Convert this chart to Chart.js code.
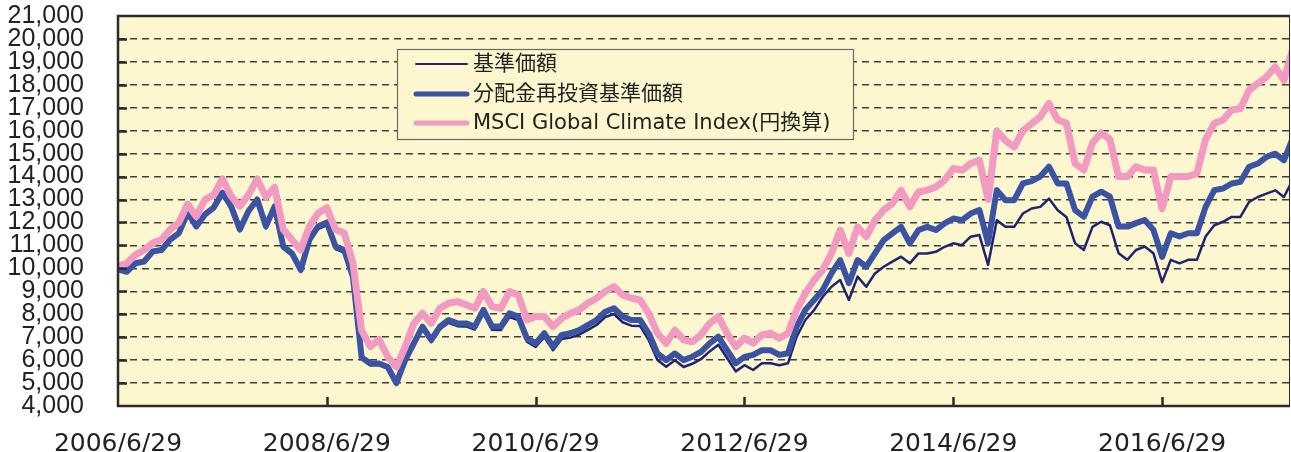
<!DOCTYPE html>
<html>
<head>
<meta charset="utf-8">
<script src="https://cdn.jsdelivr.net/npm/chart.js@4"></script>
<style>
  html, body { margin: 0; background: #fff; }
  #wrap { width: 1291px; height: 452px; }
</style>
</head>
<body>
<div id="wrap"><canvas id="chart" width="1291" height="452"></canvas></div>
<script>
// 目盛りラベル（2年ごと、月数0,24,48...）
const tickLabels = ['2006/6/29', '2008/6/29', '2010/6/29', '2012/6/29', '2014/6/29', '2016/6/29'];
const seriesNames = ['基準価額', '分配金再投資基準価額', 'MSCI Global Climate Index(円換算)'];

// 月次の値（2006/6/29 から1か月ごと、図から読み取り）
const navValues = [
  9950, 9830, 10190, 10270, 10700, 10760, 11200, 11490, 12370, 11770, 12280, 12580,
  13220, 12620, 11620, 12410, 12900, 11740, 12600, 10860, 10560, 9840, 11150, 11720,
  11880, 10840, 10690, 9530, 6050, 5780, 5780, 5630, 4930, 5920, 6630, 7350,
  6780, 7340, 7630, 7480, 7470, 7330, 8040, 7320, 7310, 7880, 7740, 6800,
  6570, 7000, 6430, 6920, 6980, 7110, 7320, 7530, 7880, 8010, 7650, 7500,
  7490, 6870, 6000, 5710, 5990, 5700, 5840, 6040, 6380, 6670, 6090, 5510,
  5780, 5570, 5860, 5860, 5780, 5860, 7020, 7750, 8180, 8760, 9200, 9490,
  8620, 9640, 9200, 9780, 10070, 10290, 10510, 10220, 10650, 10650, 10720, 10940,
  11090, 11010, 11380, 11450, 10150, 12100, 11810, 11810, 12390, 12610, 12680, 13040,
  12530, 12240, 11090, 10800, 11810, 12030, 11880, 10660, 10370, 10800, 10950, 10660,
  9400, 10370, 10220, 10370, 10370, 11390, 11880, 12030, 12240, 12240, 12900, 13110,
  13260, 13400, 13110, 13840
];
const reinvValues = [
  9950, 9850, 10220, 10300, 10740, 10800, 11250, 11540, 12430, 11830, 12350, 12650,
  13300, 12700, 11700, 12500, 13000, 11830, 12700, 10950, 10650, 9930, 11250, 11830,
  12000, 10950, 10800, 9630, 6120, 5850, 5850, 5700, 5000, 6000, 6730, 7460,
  6880, 7460, 7750, 7600, 7600, 7460, 8190, 7460, 7460, 8040, 7900, 6950,
  6730, 7170, 6590, 7100, 7170, 7310, 7530, 7750, 8110, 8260, 7900, 7750,
  7750, 7170, 6290, 6000, 6290, 6000, 6150, 6360, 6730, 7020, 6440, 5860,
  6140, 6230, 6430, 6430, 6230, 6300, 7460, 8190, 8620, 9060, 9780, 10360,
  9350, 10360, 10070, 10650, 11230, 11520, 11810, 11090, 11670, 11810, 11670, 11960,
  12170, 12100, 12390, 12540, 11100, 13410, 12970, 12970, 13700, 13800, 14000, 14430,
  13700, 13700, 12540, 12250, 13130, 13340, 13130, 11820, 11820, 11970, 12110, 11680,
  10500, 11530, 11390, 11530, 11530, 12680, 13410, 13480, 13700, 13770, 14430, 14570,
  14860, 15000, 14710, 15650
];
const indexValues = [
  10100, 10220, 10590, 10800, 11100, 11250, 11690, 12000, 12800, 12260, 13000, 13200,
  13900, 13150, 12700, 13200, 13900, 13100, 13530, 11690, 11250, 10800, 11840, 12400,
  12640, 11690, 11540, 10220, 7300, 6590, 6900, 6150, 5700, 6580, 7600, 8040,
  7600, 8260, 8480, 8550, 8410, 8260, 8990, 8330, 8260, 8990, 8840, 7750,
  7900, 7900, 7460, 7830, 8040, 8190, 8480, 8700, 8990, 9210, 8840, 8700,
  8620, 8040, 7170, 6730, 7310, 6880, 6800, 7100, 7600, 7900, 7170, 6580,
  6960, 6740, 7100, 7170, 6960, 7170, 8190, 8910, 9490, 9930, 10650, 11670,
  10650, 11810, 11380, 12100, 12540, 12830, 13410, 12680, 13330, 13410, 13550, 13840,
  14350, 14280, 14570, 14710, 13000, 16000, 15570, 15290, 16000, 16300, 16610, 17190,
  16470, 16320, 14570, 14290, 15470, 15900, 15620, 14000, 14000, 14430, 14290, 14290,
  12600, 14000, 14000, 14000, 14140, 15620, 16320, 16470, 16900, 16970, 17770, 18060,
  18350, 18780, 18200, 19550
];

const colors = ['#1f2370', '#3a53a3', '#f39ac3'];
const widths = [2.5, 6, 7];
const plotBg = '#fcf7cf';

const toXY = arr => arr.map((v, i) => ({ x: i, y: v }));

// 背景・枠・目盛り・凡例
const decor = {
  id: 'decor',
  beforeDraw(chart) {
    const { ctx, chartArea: a } = chart;
    ctx.save();
    ctx.fillStyle = plotBg;
    ctx.fillRect(a.left, a.top, a.right - a.left, a.bottom - a.top);
    ctx.restore();
  },
  afterDraw(chart) {
    const { ctx, chartArea: a, scales } = chart;
    ctx.save();
    ctx.strokeStyle = '#2b2b2b';
    ctx.lineWidth = 2.5;
    // 内向きの目盛り
    ctx.beginPath();
    for (let v = 5000; v <= 20000; v += 1000) {
      const y = Math.round(scales.y.getPixelForValue(v)) + 0.5;
      ctx.moveTo(a.left, y);
      ctx.lineTo(a.left + 9, y);
    }
    for (let i = 1; i < tickLabels.length; i++) {
      const x = Math.round(scales.x.getPixelForValue(i * 24)) + 0.5;
      ctx.moveTo(x, a.bottom);
      ctx.lineTo(x, a.bottom - 9);
    }
    ctx.stroke();
    // 枠
    ctx.beginPath();
    ctx.moveTo(a.right, a.top);
    ctx.lineTo(a.left, a.top);
    ctx.lineTo(a.left, a.bottom);
    ctx.lineTo(a.right, a.bottom);
    ctx.stroke();
    ctx.lineWidth = 1;
    ctx.beginPath();
    ctx.moveTo(a.right - 0.5, a.top);
    ctx.lineTo(a.right - 0.5, a.bottom);
    ctx.stroke();

    // 凡例
    const lx = 397.5, ly = 49.5, lw = 456, lh = 90;
    ctx.fillStyle = plotBg;
    ctx.fillRect(lx, ly, lw, lh);
    ctx.strokeStyle = '#6b6b6b';
    ctx.lineWidth = 1.2;
    ctx.strokeRect(lx, ly, lw, lh);
    const rows = [64, 94, 123];
    ctx.font = '21px "DejaVu Sans", "Noto Sans CJK JP"';
    ctx.textBaseline = 'middle';
    ctx.lineCap = 'round';
    seriesNames.forEach((name, i) => {
      ctx.strokeStyle = colors[i];
      ctx.lineWidth = i === 0 ? 2 : 5;
      ctx.beginPath();
      ctx.moveTo(416, rows[i]);
      ctx.lineTo(467, rows[i]);
      ctx.stroke();
      ctx.fillStyle = '#222';
      ctx.fillText(name, 473, rows[i] + 1);
    });
    ctx.restore();
  }
};

new Chart(document.getElementById('chart'), {
  type: 'line',
  data: {
    datasets: [
      { label: seriesNames[0], data: toXY(navValues), borderColor: colors[0], borderWidth: widths[0], order: 3 },
      { label: seriesNames[1], data: toXY(reinvValues), borderColor: colors[1], borderWidth: widths[1], order: 2 },
      { label: seriesNames[2], data: toXY(indexValues), borderColor: colors[2], borderWidth: widths[2], order: 1 }
    ]
  },
  options: {
    responsive: false,
    animation: false,
    layout: { padding: { top: 16, right: 1, left: 0, bottom: 0 } },
    elements: {
      point: { radius: 0 },
      line: { tension: 0, borderJoinStyle: 'round', borderCapStyle: 'round' }
    },
    plugins: { legend: { display: false }, tooltip: { enabled: false } },
    scales: {
      x: {
        type: 'linear',
        min: 0,
        max: 134.7,
        afterBuildTicks: s => { s.ticks = s.ticks.filter(t => t.value % 24 === 0); },
        afterFit: s => { s.height = 46; s.paddingLeft = 0; s.paddingRight = 0; },
        grid: { display: false },
        border: { display: false },
        ticks: {
          stepSize: 24,
          autoSkip: false,
          maxRotation: 0,
          padding: 15,
          color: '#222',
          font: { family: 'DejaVu Sans', size: 25 },
          callback: v => tickLabels[v / 24] || ''
        }
      },
      y: {
        min: 4000,
        max: 21000,
        afterFit: s => { s.width = 118; s.paddingTop = 0; s.paddingBottom = 0; },
        border: { display: false, dash: [7, 5] },
        grid: {
          drawTicks: false,
          lineWidth: 1.5,
          color: c => (c.tick.value === 4000 || c.tick.value === 21000) ? 'rgba(0,0,0,0)' : '#3f3f3f'
        },
        ticks: {
          stepSize: 1000,
          autoSkip: false,
          padding: 34,
          color: '#222',
          font: { family: 'Liberation Sans', size: 25 },
          callback: v => v.toLocaleString('en-US')
        }
      }
    }
  },
  plugins: [decor]
});
</script>
</body>
</html>
